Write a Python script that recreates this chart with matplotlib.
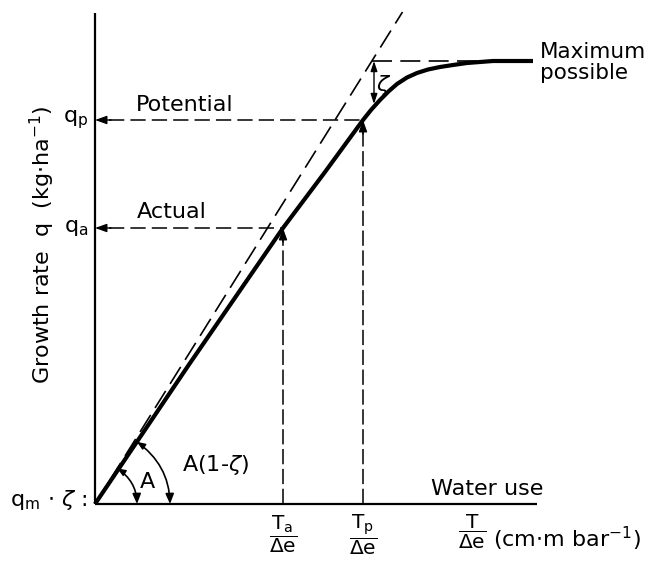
import numpy as np
import matplotlib.pyplot as plt
from matplotlib.patches import FancyArrowPatch

# growth rate q against water use T/De, arbitrary units
CURVE_X = [0.0, 0.93, 1.88, 2.30, 2.68, 2.76, 2.85, 2.94, 3.02, 3.12, 3.22,
           3.33, 3.45, 3.58, 3.72, 3.85, 3.98, 4.38]
CURVE_Y = [0.0, 1.38, 2.76, 3.32, 3.84, 3.94, 4.04, 4.13, 4.20, 4.265, 4.31,
           4.345, 4.37, 4.39, 4.41, 4.42, 4.43, 4.43]

MAX_SLOPE = 1.6          # slope A of the dashed line
T_ACTUAL, Q_ACTUAL = 1.88, 2.76
T_POTENTIAL, Q_POTENTIAL = 2.68, 3.84
Q_MAX = 4.43
ZETA_X, ZETA_Y = 2.79, 4.00
X_END, Y_END = 4.42, 4.91
T_LABEL_X = 3.77

X_TICK_POS = [T_ACTUAL, T_POTENTIAL, T_LABEL_X]
X_TICK_LABELS = [r"$\dfrac{\mathrm{T_a}}{\Delta \mathrm{e}}$",
                 r"$\dfrac{\mathrm{T_p}}{\Delta \mathrm{e}}$",
                 r"$\dfrac{\mathrm{T}}{\Delta \mathrm{e}}$"]

ARC_A_R = 0.42
ARC_A1Z_R = 0.75

FS = 16


def arrow(ax, start, end, style="-|>", lw=1.0):
    ax.annotate("", xy=end, xytext=start,
                arrowprops=dict(arrowstyle=f"{style},head_length=0.7,head_width=0.25",
                                color="black", lw=lw, shrinkA=0, shrinkB=0))


def arc(ax, r, angle):
    start = (r, 0.0)
    end = (r * np.cos(angle), r * np.sin(angle))
    rad = np.tan(angle / 4)
    p = FancyArrowPatch(end, start, connectionstyle=f"arc3,rad={-rad}",
                        arrowstyle="-|>,head_length=6,head_width=2.5",
                        color="black", lw=1.2, shrinkA=0, shrinkB=0)
    ax.add_patch(p)
    ax.annotate("", xy=end, xytext=(end[0] + 0.08 * np.sin(angle), end[1] - 0.08 * np.cos(angle)),
                arrowprops=dict(arrowstyle="-|>,head_length=0.5,head_width=0.2",
                                color="black", lw=1.0, shrinkA=0, shrinkB=0))


def main():
    plt.rcParams["font.family"] = ["DejaVu Sans"]
    plt.rcParams["mathtext.fontset"] = "dejavusans"

    fig = plt.figure(figsize=(6.53, 5.66), dpi=100)
    ax = fig.add_axes([0, 0, 1, 1])
    ax.set_xlim(-0.95, 5.58)
    ax.set_ylim(-0.62, 5.04)
    ax.axis("off")

    # axes
    ax.plot([0, 0], [0, Y_END], color="black", lw=1.6, solid_capstyle="butt")
    ax.plot([0, X_END], [0, 0], color="black", lw=1.6, solid_capstyle="butt")

    # dashed max-slope line and max possible level
    top_x = (Y_END + 0.01) / MAX_SLOPE
    ax.plot([0, top_x], [0, MAX_SLOPE * top_x], color="black", lw=1.2, dashes=(12, 5))
    ax.plot([Q_MAX / MAX_SLOPE, 4.3], [Q_MAX, Q_MAX], color="black", lw=1.2, dashes=(12, 5))

    # response curve
    ax.plot(CURVE_X, CURVE_Y, color="black", lw=3.0, solid_capstyle="butt",
            solid_joinstyle="round")

    # actual / potential guides
    for t, q in [(T_ACTUAL, Q_ACTUAL), (T_POTENTIAL, Q_POTENTIAL)]:
        ax.plot([t, t], [0, q - 0.12], color="black", lw=1.1, dashes=(10, 3))
        arrow(ax, (t, q - 0.14), (t, q))
        ax.plot([0.14, t], [q, q], color="black", lw=1.1, dashes=(10, 4))
        arrow(ax, (0.16, q), (0, q))

    # zeta gap
    ax.annotate("", xy=(ZETA_X, ZETA_Y), xytext=(ZETA_X, Q_MAX),
                arrowprops=dict(arrowstyle="<|-|>,head_length=0.6,head_width=0.2",
                                color="black", lw=1.0, shrinkA=0, shrinkB=0))
    ax.text(ZETA_X + 0.1, 4.19, r"$\zeta$", fontsize=FS, va="center", ha="center")

    # angle arcs
    arc(ax, ARC_A_R, np.arctan(MAX_SLOPE))
    arc(ax, ARC_A1Z_R, np.arctan2(CURVE_Y[1], CURVE_X[1]))
    ax.text(0.52, 0.22, "A", fontsize=FS, ha="center", va="center")
    ax.text(1.20, 0.39, r"A(1-$\zeta$)", fontsize=FS, ha="center", va="center")

    # labels
    ax.text(0.90, 3.99, "Potential", fontsize=FS, ha="center", va="center")
    ax.text(0.77, 2.92, "Actual", fontsize=FS, ha="center", va="center")
    ax.text(-0.07, Q_POTENTIAL, r"q$_\mathrm{p}$", fontsize=FS, ha="right", va="center")
    ax.text(-0.07, Q_ACTUAL, r"q$_\mathrm{a}$", fontsize=FS, ha="right", va="center")
    ax.text(-0.08, 0.04, r"q$_\mathrm{m}$ $\cdot$ $\zeta$ :", fontsize=FS, ha="right", va="center")
    ax.text(-0.53, 2.59, r"Growth rate  q  (kg$\cdot$ha$^{-1}$)", fontsize=FS,
            rotation=90, ha="center", va="center")
    ax.text(3.92, 0.15, "Water use", fontsize=FS, ha="center", va="center")
    ax.text(4.45, 4.52, "Maximum", fontsize=FS - 0.5, ha="left", va="center")
    ax.text(4.45, 4.31, "possible", fontsize=FS - 0.5, ha="left", va="center")

    for x, lab in zip(X_TICK_POS, X_TICK_LABELS):
        ax.text(x, -0.09, lab, fontsize=FS - 1.5, ha="center", va="top", clip_on=False)
    ax.text(3.98, -0.35, r"(cm$\cdot$m bar$^{-1}$)", fontsize=FS, ha="left", va="center")

    fig.savefig("out.png", dpi=100)
    plt.close(fig)


if __name__ == "__main__":
    main()
